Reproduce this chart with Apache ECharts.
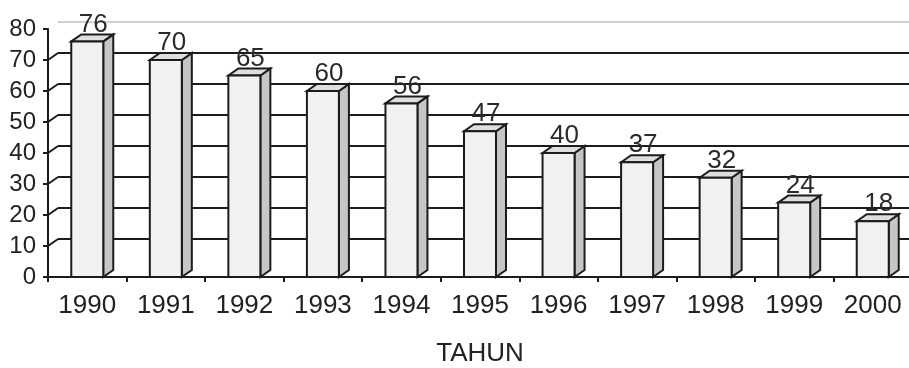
<!DOCTYPE html>
<html>
<head>
<meta charset="utf-8">
<script src="https://cdn.jsdelivr.net/npm/echarts@6/dist/echarts.min.js"></script>
<style>
  html, body { margin: 0; padding: 0; background: #ffffff; }
  #chart { width: 909px; height: 368px; }
</style>
</head>
<body>
<div id="chart"></div>
<script>
// Yearly values, one bar per year
const CATEGORIES = ['1990', '1991', '1992', '1993', '1994', '1995', '1996', '1997', '1998', '1999', '2000'];
const VALUES = [76, 70, 65, 60, 56, 47, 40, 37, 32, 24, 18];
const Y_TICKS = [0, 10, 20, 30, 40, 50, 60, 70, 80];
const X_NAME = 'TAHUN';

// pseudo-3D geometry (pixels)
const BAR_W = 32;
const DX = 10;
const DY = 7;
const INK = '#1c1c1c';
const FONT = 'Liberation Sans, Arial, sans-serif';

const Y_MIN = Y_TICKS[0];
const Y_MAX = Y_TICKS[Y_TICKS.length - 1];
const Y_STEP = Y_TICKS[1] - Y_TICKS[0];
const WALL_LINES = Y_TICKS.filter(v => v > Y_MIN && v < Y_MAX);

function renderBar(params, api) {
  const i = api.value(0);
  const v = api.value(1);
  const top = api.coord([i, v]);
  const base = api.coord([i, 0]);
  const x0 = top[0] - BAR_W / 2;
  const x1 = top[0] + BAR_W / 2;
  const yT = top[1];
  const yB = base[1];
  const stroke = { stroke: INK, lineWidth: 2, lineJoin: 'miter' };
  return {
    type: 'group',
    children: [
      {
        type: 'polygon',
        shape: { points: [[x1, yB], [x1 + DX, yB - DY], [x1 + DX, yT - DY], [x1, yT]] },
        style: Object.assign({ fill: '#c6c6c6' }, stroke)
      },
      {
        type: 'polygon',
        shape: { points: [[x0, yT], [x0 + DX, yT - DY], [x1 + DX, yT - DY], [x1, yT]] },
        style: Object.assign({ fill: '#dedede' }, stroke)
      },
      {
        type: 'rect',
        shape: { x: x0, y: yT, width: BAR_W, height: yB - yT },
        style: Object.assign({ fill: '#f1f1f1' }, stroke)
      },
      {
        type: 'text',
        style: {
          text: String(v),
          x: top[0] + 6,
          y: yT - DY + 3,
          align: 'center',
          verticalAlign: 'bottom',
          font: '26px ' + FONT,
          fill: '#2a2a2a'
        }
      }
    ]
  };
}

// short slanted strokes joining the axis ticks to the back wall lines
function renderConnector(params, api) {
  const v = api.value(1);
  const p = api.coord([0, v]);
  const x = params.coordSys.x;
  return {
    type: 'line',
    shape: { x1: x, y1: p[1], x2: x + DX, y2: p[1] - DY },
    style: { stroke: INK, lineWidth: 2 }
  };
}

const chart = echarts.init(document.getElementById('chart'), null, { renderer: 'canvas' });

const wallColors = Y_TICKS.map(v => (v === Y_MIN ? 'rgba(0,0,0,0)' : v === Y_MAX ? '#d0d0d0' : INK));

chart.setOption({
  backgroundColor: '#ffffff',
  animation: false,
  grid: [
    { left: 48, right: -3, top: 29, bottom: 91, outerBoundsMode: 'none', containLabel: false },
    { left: 48 + DX, right: -3, top: 29 - DY, bottom: 91 + DY, outerBoundsMode: 'none', containLabel: false }
  ],
  xAxis: [
    {
      type: 'category',
      gridIndex: 0,
      data: CATEGORIES,
      boundaryGap: true,
      axisLine: { lineStyle: { color: INK, width: 2 } },
      axisTick: { show: true, length: 5, lineStyle: { color: INK, width: 2 } },
      axisLabel: { fontSize: 26, fontFamily: FONT, color: '#222', margin: 16 },
      name: X_NAME,
      nameLocation: 'middle',
      nameGap: 64,
      nameTextStyle: { fontSize: 26, fontFamily: FONT, color: '#222' },
      splitLine: { show: false },
      z: 5
    },
    {
      type: 'category',
      gridIndex: 1,
      data: CATEGORIES,
      show: false
    }
  ],
  yAxis: [
    {
      type: 'value',
      gridIndex: 0,
      min: Y_MIN,
      max: Y_MAX,
      interval: Y_STEP,
      axisLine: { show: true, lineStyle: { color: INK, width: 2 } },
      axisTick: { show: true, length: 5, lineStyle: { color: INK, width: 2 } },
      axisLabel: { fontSize: 24, fontFamily: FONT, color: '#222', margin: 12 },
      splitLine: { show: false },
      z: 5
    },
    {
      type: 'value',
      gridIndex: 1,
      min: Y_MIN,
      max: Y_MAX,
      interval: Y_STEP,
      axisLine: { show: false },
      axisTick: { show: false },
      axisLabel: { show: false },
      splitLine: { show: true, lineStyle: { color: wallColors, width: 2 } }
    }
  ],
  series: [
    {
      type: 'custom',
      xAxisIndex: 0,
      yAxisIndex: 0,
      renderItem: renderConnector,
      data: WALL_LINES.map(v => [0, v]),
      encode: { x: 0, y: 1 },
      silent: true,
      z: 3
    },
    {
      type: 'custom',
      xAxisIndex: 0,
      yAxisIndex: 0,
      renderItem: renderBar,
      data: VALUES.map((v, i) => [i, v]),
      encode: { x: 0, y: 1 },
      clip: false,
      z: 4
    }
  ]
});
</script>
</body>
</html>
